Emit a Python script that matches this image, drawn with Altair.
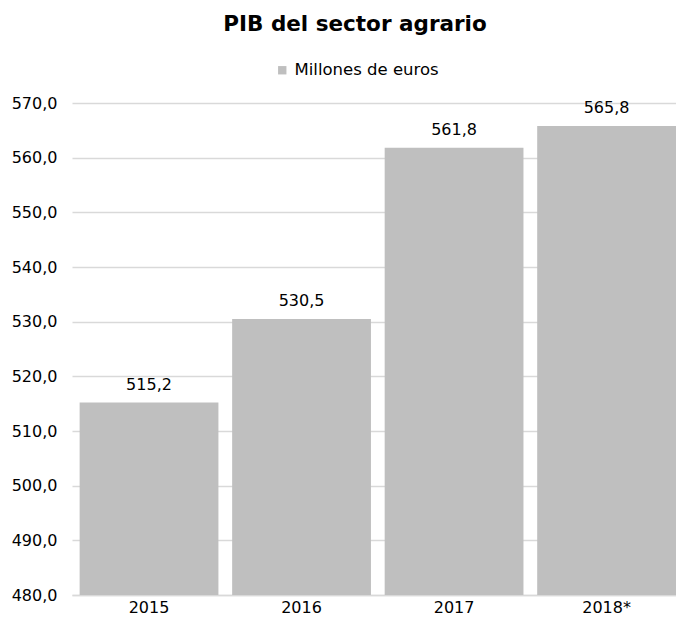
import altair as alt
import pandas as pd

years = ["2015", "2016", "2017", "2018*"]
values = [515.2, 530.5, 561.8, 565.8]
series = ["Millones de euros"] * 4
y_ticks = [480, 490, 500, 510, 520, 530, 540, 550, 560, 570]

df = pd.DataFrame({"year": years, "value": values, "serie": series})

FONT = "DejaVu Sans"

base = alt.Chart(df).transform_calculate(
    lbl="replace(format(datum.value, '.1f'), '.', ',')"
)

bars = base.mark_bar(color="#bfbfbf").encode(
    x=alt.X("year:N", sort=years, title=None,
            scale=alt.Scale(paddingInner=0.09, paddingOuter=0.025, align=1),
            axis=alt.Axis(labelAngle=0, labelFont=FONT, labelFontSize=16,
                          labelColor="#000000", labelPadding=4, ticks=False,
                          domainColor="#d9d9d9", domainWidth=1.5)),
    y=alt.Y("value:Q", title=None,
            scale=alt.Scale(domain=[480, 570], nice=False, zero=False, clamp=True),
            axis=alt.Axis(values=y_ticks, labelFont=FONT, labelFontSize=16,
                          labelColor="#000000", labelPadding=15, ticks=False,
                          domain=False, gridColor="#d9d9d9", gridWidth=1.5,
                          labelExpr="replace(format(datum.value, '.1f'), '.', ',')")),
    color=alt.Color("serie:N", scale=alt.Scale(range=["#bfbfbf"]),
                    legend=alt.Legend(title=None, orient="none", legendX=202, legendY=-41,
                                      symbolType="square", symbolSize=70,
                                      symbolStrokeWidth=0,
                                      labelFont=FONT, labelFontSize=16.5,
                                      labelColor="#000000")),
)

labels = base.mark_text(font=FONT, fontSize=16, color="#000000",
                        baseline="alphabetic", dy=-13).encode(
    x=alt.X("year:N", sort=years),
    y=alt.Y("value:Q"),
    text="lbl:N",
)

chart = (bars + labels).properties(
    width=604, height=492,
    padding={"left": 64, "top": 95, "right": 0, "bottom": 23},
    autosize=alt.AutoSizeParams(type="none"),
    title=alt.TitleParams("PIB del sector agrario", font=FONT, fontSize=21.5,
                          fontWeight="bold", color="#000000", anchor="middle",
                          dx=-19, offset=27),
).configure_view(stroke=None)

chart.save("out.html", embed_options={"renderer": "svg", "actions": False})
